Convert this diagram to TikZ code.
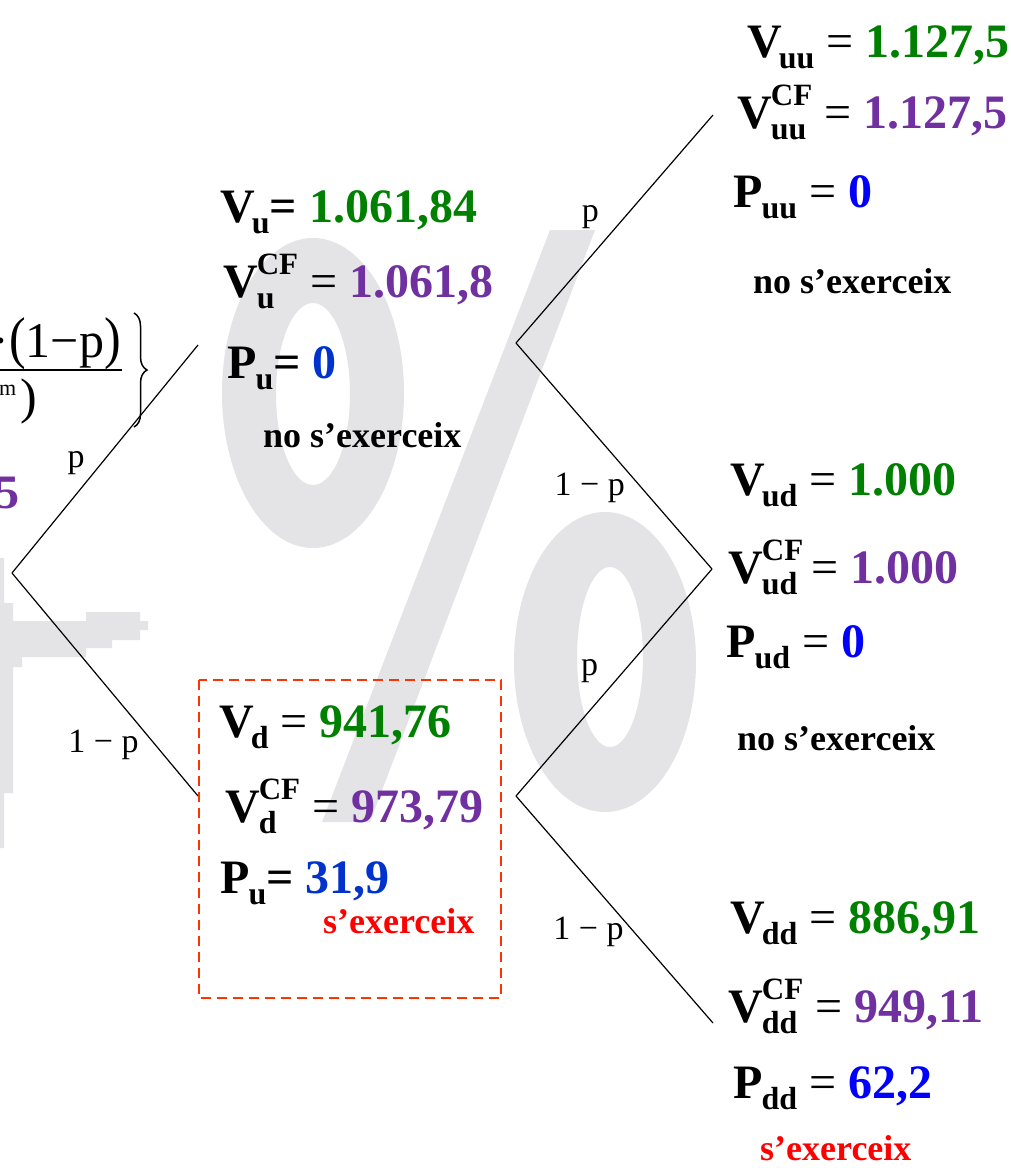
\documentclass[tikz,border=0pt]{standalone}
\usepackage{fontspec}
\setmainfont{Liberation Serif}
\usepackage{graphicx}
\usetikzlibrary{decorations.pathreplacing}

\definecolor{vgreen}{RGB}{0,128,0}
\definecolor{vpurple}{RGB}{112,48,160}
\definecolor{pblue}{RGB}{0,51,204}
\definecolor{pbluex}{RGB}{0,0,255}
\definecolor{xred}{RGB}{255,0,0}
\definecolor{boxred}{RGB}{255,51,0}
\definecolor{wmgray}{RGB}{228,227,230}

% subindexs i marca CF
\newcommand{\subb}[1]{\raisebox{-11pt}{\fontsize{32}{32}\selectfont\bfseries #1}}
\newcommand{\Vs}[1]{\textbf{V}\kern-3pt\subb{#1}}
\newcommand{\Ps}[1]{\textbf{P}\kern-1pt\subb{#1}}
\newcommand{\Vcf}[1]{\textbf{V}\kern-1pt\setbox0=\hbox{\fontsize{31}{31}\selectfont\bfseries CF}\setbox2=\hbox{\subb{#1}}\ifdim\wd0<\wd2 \setbox0=\hbox to\wd2{\box0\hfil}\fi\rlap{\box2}\raisebox{23pt}{\box0}}

\begin{document}
\begin{tikzpicture}[
  x=1pt, y=-1pt,
  val/.style={anchor=base west, inner sep=0pt, font=\fontsize{48}{52}\selectfont},
  note/.style={anchor=base west, inner sep=0pt, font=\fontsize{36}{40}\selectfont\bfseries},
  prob/.style={inner sep=0pt, font=\fontsize{34}{38}\selectfont},
  frac/.style={anchor=base east, inner sep=0pt, font=\fontsize{50}{54}\selectfont},
  wmark/.style={fill=wmgray, draw=none},
  branch/.style={line width=1.2pt},
]
\useasboundingbox (0,0) rectangle (1010,1168);
% marca d'aigua
\fill[wmark, even odd rule] (313,393) ellipse [x radius=91, y radius=155]
  (313,394) ellipse [x radius=37, y radius=91];
\fill[wmark] (550,230) -- (595,230) -- (370,822) -- (322,822) -- cycle;
\fill[wmark, even odd rule] (605,662) ellipse [x radius=91, y radius=150]
  (610,657) ellipse [x radius=33, y radius=90];
\fill[wmark] (0,558) -- (4,558) -- (4,603) -- (13,603) -- (13,621) -- (86,621) -- (86,612)
  -- (140,612) -- (140,621) -- (148,621) -- (148,630) -- (140,630) -- (140,640) -- (112,640)
  -- (112,648) -- (86,648) -- (86,657) -- (22,657) -- (22,667) -- (13,667) -- (13,793)
  -- (4,793) -- (4,848) -- (0,848) -- cycle;
% vertexs de l'arbre
\coordinate (r0) at (12,573);
\coordinate (inU) at (198,345);
\coordinate (inD) at (198,796);
\coordinate (nu) at (516,343);
\coordinate (nd) at (516,796);
\coordinate (nuu) at (713,115);
\coordinate (nud) at (712,569);
\coordinate (ndd) at (713,1023);
% branques
\draw[branch] (r0) -- node[prob, pos=.48, left=16pt] {p} (inU);
\draw[branch] (r0) -- node[prob, pos=.77, left=16pt] {1 − p} (inD);
\draw[branch] (nu) -- node[prob, pos=.55, left=25pt] {p} (nuu);
\draw[branch] (nu) -- node[prob, pos=.64, left=16pt] {1 − p} (nud);
\draw[branch] (nd) -- node[prob, pos=.55, left=25pt] {p} (nud);
\draw[branch] (nd) -- node[prob, pos=.60, left=10pt] {1 − p} (ndd);
% arrel (tallada)
\node[frac] (numr) at (121,357) {·\scalebox{1}[1.15]{(}1−p\scalebox{1}[1.15]{)}};
\draw[line width=1.5pt] (-2,370) -- (122,370);
\node[frac] (denr) at (37,413) {\raisebox{18pt}{\fontsize{22}{22}\selectfont m}\kern4pt)};
\draw[line width=1.5pt, decorate, decoration={brace, amplitude=13pt}] (134,313) -- (134,427);
\node[val, text=vpurple] (v0) at (-5,508) {\textbf{5}};
% node u
\node[val] (vu) at (220,222) {\Vs{u}\textbf{=} \textcolor{vgreen}{\textbf{1.061,84}}};
\node[val] (vucf) at (223,297) {\Vcf{u} = \textcolor{vpurple}{\textbf{1.061,8}}};
\node[val] (pu) at (227,378) {\Ps{u}\textbf{=} \textcolor{pblue}{\textbf{0}}};
\node[note] (nou) at (263,447) {no s’exerceix};
% node d
\draw[boxred, line width=1.8pt, dash pattern=on 10pt off 6pt] (199,680) rectangle (501,998);
\node[val] (vd) at (219,737) {\Vs{d} = \textcolor{vgreen}{\textbf{941,76}}};
\node[val] (vdcf) at (225,822) {\Vcf{d} = \textcolor{vpurple}{\textbf{973,79}}};
\node[val] (pd) at (220,893) {\Ps{u}\textbf{=} \textcolor{pblue}{\textbf{31,9}}};
\node[note, text=xred] (exd) at (323,933) {s’exerceix};
% node uu
\node[val] (vuu) at (747,57) {\Vs{uu} = \textcolor{vgreen}{\textbf{1.127,5}}};
\node[val] (vuucf) at (737,128) {\Vcf{uu} = \textcolor{vpurple}{\textbf{1.127,5}}};
\node[val] (puu) at (733,207) {\Ps{uu} = \textcolor{pbluex}{\textbf{0}}};
\node[note] (nouu) at (753,293) {no s’exerceix};
% node ud
\node[val] (vud) at (730,495) {\Vs{ud} = \textcolor{vgreen}{\textbf{1.000}}};
\node[val] (vudcf) at (728,583) {\Vcf{ud}\kern8pt = \textcolor{vpurple}{\textbf{1.000}}};
\node[val] (pud) at (726,657) {\Ps{ud} = \textcolor{pbluex}{\textbf{0}}};
\node[note] (noud) at (737,750) {no s’exerceix};
% node dd
\node[val] (vdd) at (730,933) {\Vs{dd} = \textcolor{vgreen}{\textbf{886,91}}};
\node[val] (vddcf) at (728,1022) {\Vcf{dd} = \textcolor{vpurple}{\textbf{949,11}}};
\node[val] (pdd) at (733,1098) {\Ps{dd} = \textcolor{pbluex}{\textbf{62,2}}};
\node[note, text=xred] (exdd) at (760,1160) {s’exerceix};
\end{tikzpicture}
\end{document}
